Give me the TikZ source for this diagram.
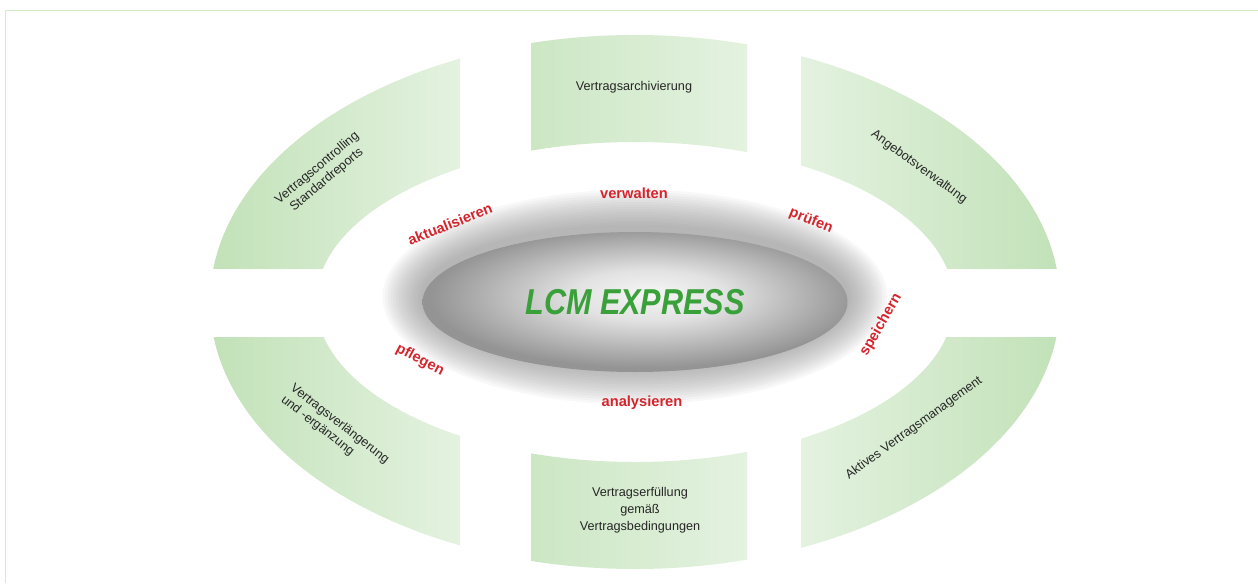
\documentclass[tikz,border=0pt]{standalone}
\usepackage{fontspec}
\setmainfont{Liberation Sans}
\usepackage{xcolor}
\usepackage{tikz}
\usetikzlibrary{shapes.geometric}
\definecolor{ringdark}{RGB}{192,225,182}
\definecolor{ringmid}{RGB}{204,231,196}
\definecolor{ringlight}{RGB}{228,242,224}
\definecolor{verbred}{RGB}{212,36,44}
\definecolor{lcmgreen}{RGB}{58,160,58}
\definecolor{framegreen}{RGB}{214,238,200}
\definecolor{captext}{RGB}{38,38,38}
\definecolor{discedge}{RGB}{148,148,148}
\definecolor{discmid}{RGB}{226,226,226}
\definecolor{disctop}{RGB}{246,246,246}
\pgfdeclareradialshading{discshade}{\pgfpoint{2bp}{3bp}}{color(0bp)=(disctop); color(9bp)=(discmid); color(25bp)=(discedge); color(50bp)=(discedge)}
\tikzset{act/.style={text=verbred,font=\fontsize{11}{13}\selectfont\bfseries,inner sep=0pt}}
\tikzset{seg/.style={text=captext,font=\fontsize{9.5}{11.3}\selectfont,align=center,inner sep=0pt}}
\tikzset{core/.style={ellipse,shade,shading=discshade,minimum width=318.75pt,minimum height=105pt,inner sep=0pt,text=lcmgreen,font=\fontsize{27}{30}\selectfont\bfseries\itshape}}

\begin{document}
\begin{tikzpicture}[x=0.75pt,y=-0.75pt]
    \useasboundingbox (0,0) rectangle (1258,583);
    \draw[framegreen,line width=1pt] (5.5,583) |- (1258,10.5);

    \begin{scope}[even odd rule]
        \clip (635,302) ellipse [x radius=425, y radius=267] (635,302) ellipse [x radius=319, y radius=160];
        \shade[left color=ringdark, right color=ringlight] (200,20) rectangle (460,268);
        \shade[left color=ringmid, right color=ringlight] (531,20) rectangle (747,302);
        \shade[left color=ringlight, right color=ringdark] (801,20) rectangle (1070,268);
        \shade[left color=ringdark, right color=ringlight] (200,337) rectangle (460,583);
        \shade[left color=ringmid, right color=ringlight] (531,302) rectangle (747,583);
        \shade[left color=ringlight, right color=ringdark] (801,337) rectangle (1070,583);
    \end{scope}

    \foreach \k [evaluate=\k as \rx using 212+2.7*\k, evaluate=\k as \ry using 70+2.5*\k] in {1,...,15}
        \fill[gray,opacity=0.055] (635,297) ellipse [x radius=\rx, y radius=\ry];

    \node[core] (lcm) at (635,302) {\scalebox{0.85}[1]{LCM EXPRESS}};

    \node[seg,rotate=40] (ctrl) at (322,174) {Vertragscontrolling\\Standardreports};
    \node[seg] (arch) at (634,87) {Vertragsarchivierung};
    \node[seg,rotate=-36] (angeb) at (919,167) {Angebotsverwaltung};
    \node[seg,rotate=-38,align=left] (verl) at (335,430) {Vertragsverlängerung\\und -ergänzung};
    \node[seg] (erf) at (640,510) {Vertragserfüllung\\[1.5pt]gemäß\\[1.5pt]Vertragsbedingungen};
    \node[seg,rotate=36] (aktiv) at (914,428) {Aktives Vertragsmanagement};

    \node[act] (verw) at (634,193) {verwalten};
    \node[act,rotate=22] (aktu) at (450,224) {aktualisieren};
    \node[act,rotate=-22] (pruef) at (811,221) {prüfen};
    \node[act,rotate=60] (speich) at (881,325) {speichern};
    \node[act,rotate=-28] (pfleg) at (420,360) {pflegen};
    \node[act] (analy) at (642,403) {analysieren};
\end{tikzpicture}
\end{document}
